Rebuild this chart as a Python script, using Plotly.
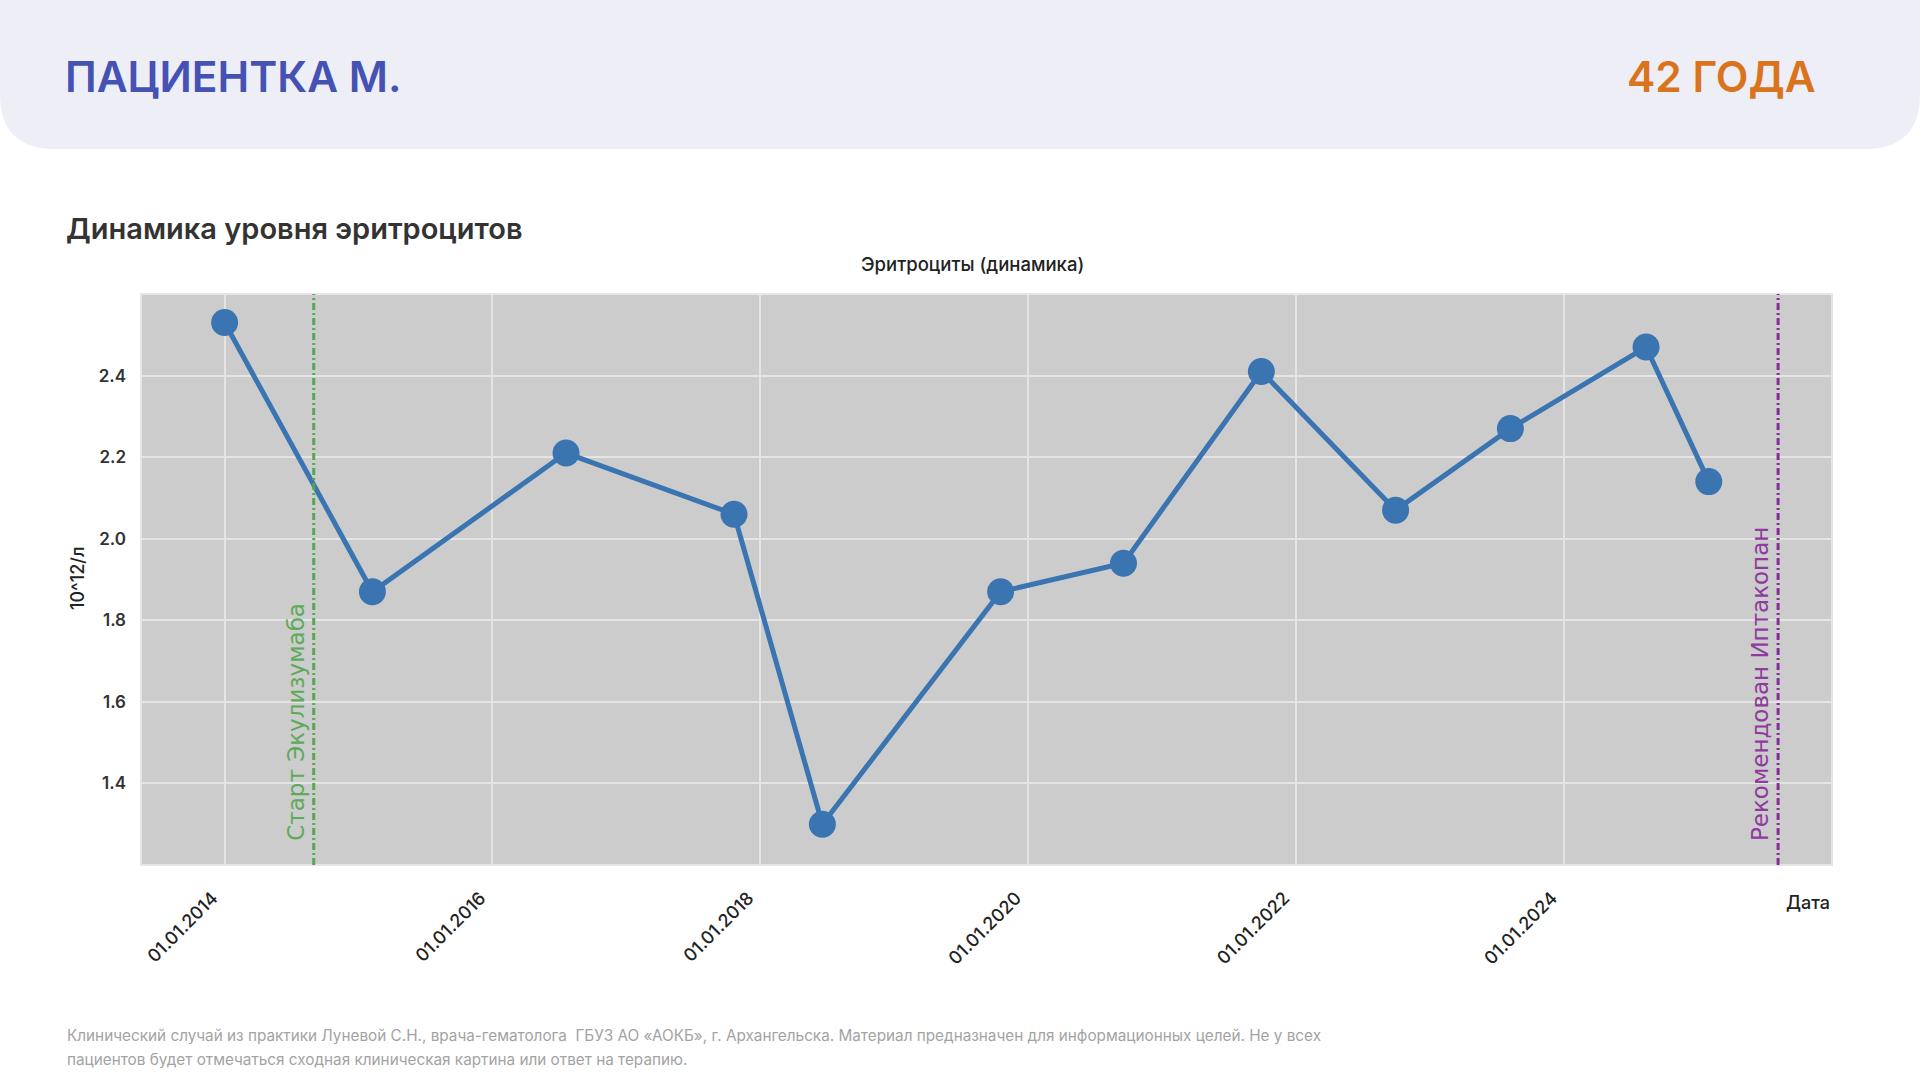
import plotly.graph_objects as go

# Erythrocyte counts (10^12/l) by date of analysis
dates = ["2014-01-01", "2015-02-08", "2016-07-20", "2017-10-21", "2018-06-19", "2019-10-18",
         "2020-09-17", "2021-09-28", "2022-09-29", "2023-08-08", "2024-08-12", "2025-01-30"]
values = [2.53, 1.87, 2.21, 2.06, 1.30, 1.87, 1.94, 2.41, 2.07, 2.27, 2.47, 2.14]

# therapy events
event_dates = ["2014-09-01", "2025-08-07"]
event_labels = ["Старт Экулизумаба", "Рекомендован Иптакопан"]
event_colors = ["#55A84F", "#862C97"]
event_text_colors = ["#5DAA5A", "#8E3A9E"]

x_tickvals = ["2014-01-01", "2016-01-01", "2018-01-01", "2020-01-01", "2022-01-01", "2024-01-01"]
x_ticktext = ["01.01.2014", "01.01.2016", "01.01.2018", "01.01.2020", "01.01.2022", "01.01.2024"]
y_tickvals = [1.4, 1.6, 1.8, 2.0, 2.2, 2.4]

W, H = 1920, 1080
PX0, PX1, PY0, PY1 = 141, 1832, 294, 865   # plot area in pixels


def px(x):
    return x / W


def py(y):
    return 1 - y / H


fig = go.Figure()
fig.add_trace(go.Scatter(
    x=dates, y=values, mode="lines+markers",
    line=dict(color="#3A75B2", width=5),
    marker=dict(color="#3A75B2", size=27),
    showlegend=False, hoverinfo="x+y",
))

# header band with rounded bottom corners
r = 55
hb = 149
fig.add_shape(
    type="path", xref="paper", yref="paper",
    path=(f"M {px(0)},{py(0)} L {px(W)},{py(0)} L {px(W)},{py(hb - r)} "
          f"Q {px(W)},{py(hb)} {px(W - r)},{py(hb)} L {px(r)},{py(hb)} "
          f"Q {px(0)},{py(hb)} {px(0)},{py(hb - r)} Z"),
    fillcolor="#EEEEF7", line=dict(width=0), layer="below",
)

# plot frame
fig.add_shape(type="rect", xref="paper", yref="paper",
              x0=px(PX0), x1=px(PX1), y0=py(PY1), y1=py(PY0),
              line=dict(color="#E6E6E6", width=2), layer="above")

for d, lab, c, tc in zip(event_dates, event_labels, event_colors, event_text_colors):
    fig.add_shape(type="line", xref="x", yref="paper", x0=d, x1=d,
                  y0=py(PY1), y1=py(PY0),
                  line=dict(color=c, width=3, dash="7px,3px,2px,3px"))
    fig.add_annotation(x=d, xref="x", y=py(PY1 - 22), yref="paper",
                       text=lab, textangle=-90, showarrow=False,
                       xanchor="right", yanchor="bottom", xshift=-3,
                       font=dict(family="DejaVu Sans", size=23, color=tc))

texts = [
    dict(x=px(63), y=py(76), text="ПАЦИЕНТКА М.", xanchor="left",
         font=dict(family="Inter", size=42.5, color="#4552B3", weight=600)),
    dict(x=px(1818), y=py(76), text="42 ГОДА", xanchor="right",
         font=dict(family="Inter", size=42.5, color="#D9741C", weight=600)),
    dict(x=px(64), y=py(228), text="Динамика уровня эритроцитов", xanchor="left",
         font=dict(family="Inter", size=29, color="#333333", weight=600)),
    dict(x=px(972), y=py(264), text="Эритроциты (динамика)", xanchor="center",
         font=dict(family="Inter", size=18.5, color="#222222", weight=500)),
    dict(x=px(77), y=py(579), text="10^12/л", xanchor="center", textangle=-90,
         font=dict(family="Inter", size=18, color="#222222", weight=500)),
    dict(x=px(PX1), y=py(902), text="Дата", xanchor="right",
         font=dict(family="Inter", size=18, color="#222222", weight=500)),
    dict(x=px(65), y=py(1035),
         text="Клинический случай из практики Луневой С.Н., врача-гематолога  ГБУЗ АО «АОКБ», г. Архангельска. "
              "Материал предназначен для информационных целей. Не у всех",
         xanchor="left", font=dict(family="Inter", size=15.3, color="#A3A3A3")),
    dict(x=px(65), y=py(1059),
         text="пациентов будет отмечаться сходная клиническая картина или ответ на терапию.",
         xanchor="left", font=dict(family="Inter", size=15.3, color="#A3A3A3")),
]
for t in texts:
    fig.add_annotation(xref="paper", yref="paper", showarrow=False, yanchor="middle", **t)

fig.update_layout(
    width=W, height=H,
    margin=dict(l=0, r=0, t=0, b=0),
    paper_bgcolor="white",
    plot_bgcolor="#CCCCCC",
    font=dict(family="Inter", color="#222222"),
    xaxis=dict(
        domain=[px(PX0), px(PX1)], range=["2013-05-18", "2026-01-01"],
        tickvals=x_tickvals, ticktext=x_ticktext, tickangle=-45,
        tickfont=dict(family="Inter", size=18, color="#222222", weight=500),
        showgrid=True, gridcolor="#E4E4E4", gridwidth=2,
        zeroline=False, showline=False, ticks="", ticklabelstandoff=18,
        ticklabelshift=-12,
    ),
    yaxis=dict(
        domain=[py(PY1), py(PY0)], range=[1.2, 2.6],
        tickvals=y_tickvals, tickformat=".1f",
        tickfont=dict(family="Inter", size=17, color="#333333", weight=600),
        showgrid=True, gridcolor="#E4E4E4", gridwidth=2,
        zeroline=False, showline=False, ticks="", ticklabelstandoff=14,
    ),
)

fig.write_html("out.html", config={"displayModeBar": False},
               post_script="document.body.style.margin='0';document.body.style.overflow='hidden';")
